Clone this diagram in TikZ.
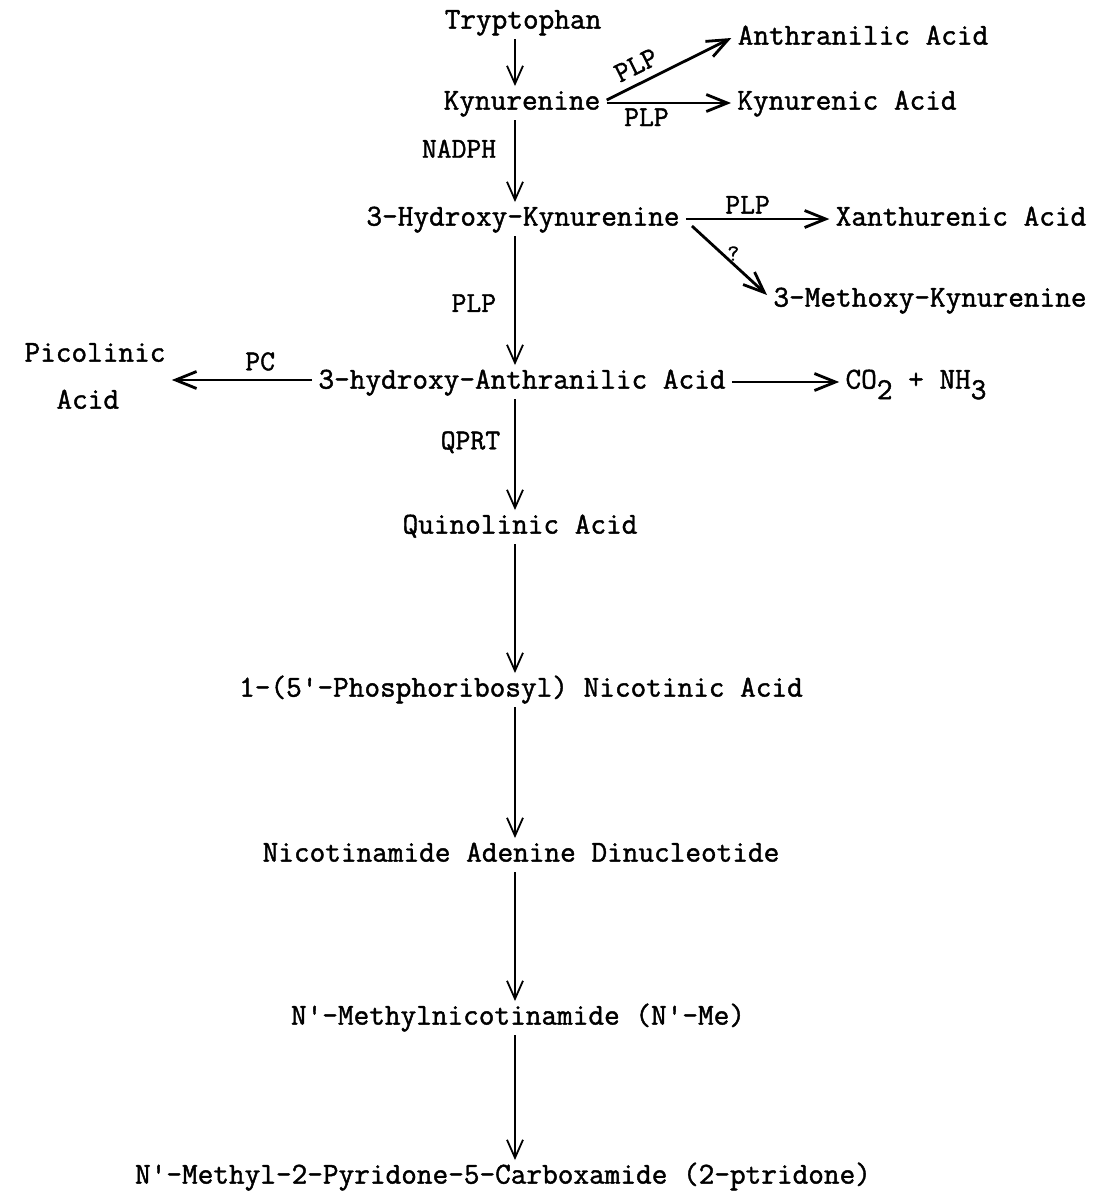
\documentclass[tikz,border=0pt]{standalone}
\usepackage{fontspec}
\newfontfamily\typewriter{Latin Modern Mono}[FakeBold=1.4]
\usetikzlibrary{arrows.meta}
\newcommand{\lowsub}[1]{\raisebox{-0.8ex}{#1}}

\begin{document}
\begin{tikzpicture}[
  x=0.5pt, y=-0.5pt,
  compound/.style={font=\typewriter\fontsize{15.2}{16}\selectfont,inner xsep=3pt,inner ysep=5pt,
    text height=0.66em,text depth=0em},
  twoline/.style={font=\typewriter\fontsize{15.2}{23.5}\selectfont,inner sep=3pt,align=left},
  enzyme/.style={font=\typewriter\fontsize{14.4}{15}\selectfont,inner sep=2pt},
  main/.style={-{Straight Barb[length=9pt,width=8pt]},line width=0.9pt},
  side/.style={-{Straight Barb[length=10.5pt,width=8.5pt]},line width=1.4pt}]

  \useasboundingbox (0,0) rectangle (1095,1196);

  % Main pathway, top to bottom
  \coordinate (axis) at (515,0);
  \node[compound] (tryp) at (523,22) {Tryptophan};
  \node[compound] (kyn)  at (522,103) {Kynurenine};
  \node[compound] (hk)   at (523,219) {3-Hydroxy-Kynurenine};
  \node[compound] (ha)   at (522,382) {3-hydroxy-Anthranilic Acid};
  \node[compound] (quin) at (520,527) {Quinolinic Acid};
  \node[compound] (prna) at (521,690) {1-(5'-Phosphoribosyl) Nicotinic Acid};
  \node[compound] (nad)  at (521,855) {Nicotinamide Adenine Dinucleotide};
  \node[compound] (nme)  at (518,1018) {N'-Methylnicotinamide (N'-Me)};
  \node[compound] (pyr)  at (503,1177) {N'-Methyl-2-Pyridone-5-Carboxamide (2-ptridone)};

  % Side products
  \node[compound] (anth)  at (863,38) {Anthranilic Acid};
  \node[compound] (kynac) at (847,103) {Kynurenic Acid};
  \node[compound] (xan)   at (961,219) {Xanthurenic Acid};
  \node[compound] (meth)  at (930,300) {3-Methoxy-Kynurenine};
  \node[twoline]  (pico)  at (95,376) {Picolinic\\\hspace*{1.05em}Acid};
  \node[compound] (co)    at (916,382) {CO\lowsub{2} + NH\lowsub{3}};

  % Arrows down the main pathway
  \draw[main] (tryp.south -| axis) -- (kyn.north -| axis);
  \draw[main] (kyn.south -| axis) -- node[pos=0.35,left=7pt,enzyme] {NADPH} (hk.north -| axis);
  \draw[main] (hk.south -| axis) -- node[pos=0.52,left=7pt,enzyme] {PLP} (ha.north -| axis);
  \draw[main] (ha.south -| axis) -- node[pos=0.39,left=5pt,enzyme] {QPRT} (quin.north -| axis);
  \draw[main] (quin.south -| axis) -- (prna.north -| axis);
  \draw[main] (prna.south -| axis) -- (nad.north -| axis);
  \draw[main] (nad.south -| axis) -- (nme.north -| axis);
  \draw[main] (nme.south -| axis) -- (pyr.north -| axis);

  % Arrows to the side products
  \draw[side] ([yshift=1.5pt]kyn.east) -- node[pos=0.3,above=2pt,sloped,enzyme] {PLP} (anth.west);
  \draw[side] (kyn.east) -- node[pos=0.32,below,enzyme] {PLP} (kynac.west);
  \draw[side] (hk.east) -- node[pos=0.43,above,enzyme] {PLP} (xan.west);
  \draw[side] ([shift={(3pt,5pt)}]hk.south east) -- node[pos=0.4,right,enzyme,font=\typewriter\fontsize{11.5}{12}\selectfont] {?} ([yshift=-6pt]meth.north west);
  \draw[side] ([yshift=-2pt]ha.west |- pico.east) -- node[pos=0.37,above=2pt,enzyme] {PC} ([yshift=-2pt]pico.east);
  \draw[side] (ha.east) -- (co.west);
\end{tikzpicture}
\end{document}
